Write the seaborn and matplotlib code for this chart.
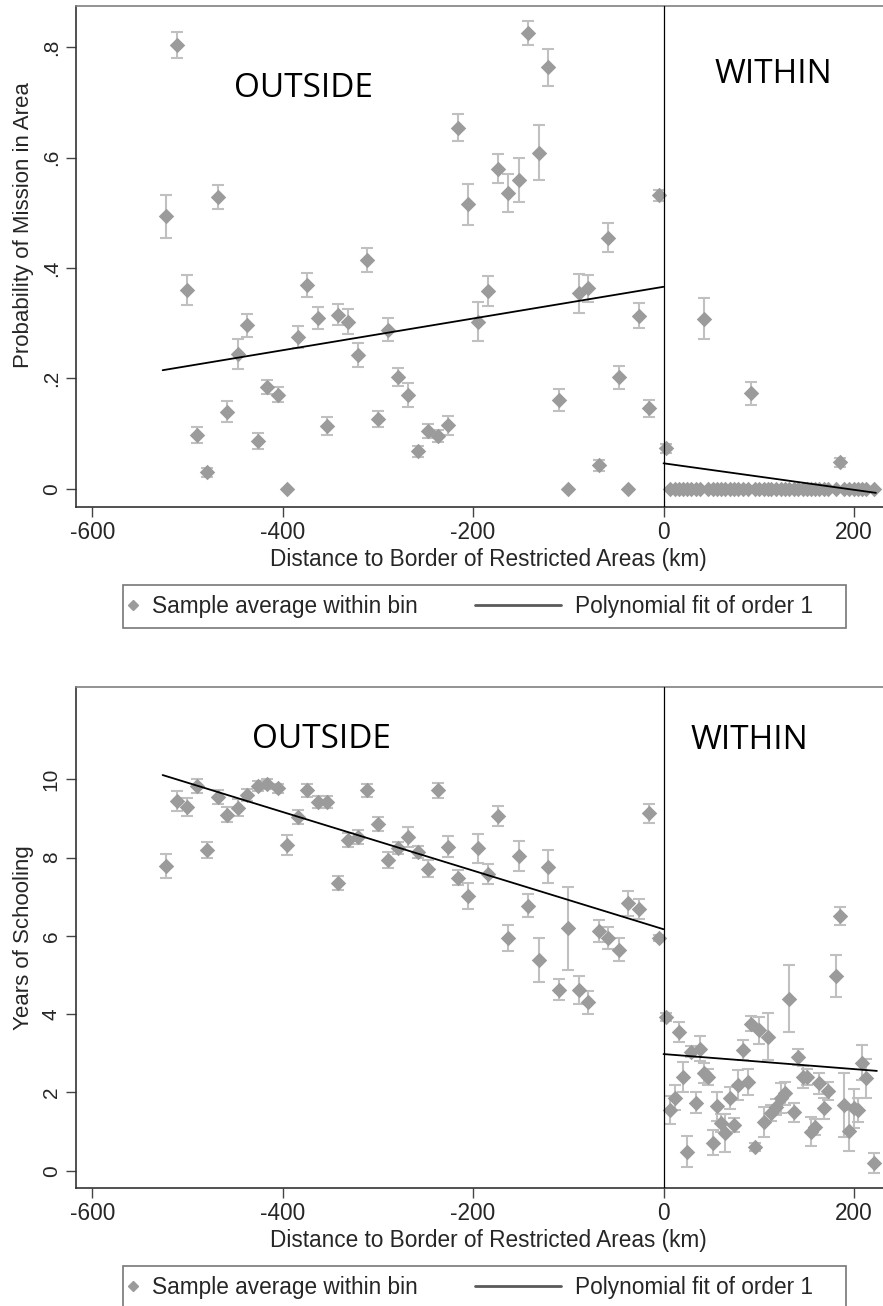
"""
Binned RD plot: mission presence and schooling vs. distance to the
border of the restricted areas (outside < 0 < within).
"""

import matplotlib
matplotlib.use("Agg")
import matplotlib.pyplot as plt
from matplotlib.lines import Line2D
from matplotlib.patches import Rectangle
import seaborn as sns

# bin centres (km to border), same for both panels
out_km = [-522, -511, -500, -490, -479, -468, -458, -447, -437, -426,
          -416, -405, -395, -384, -374, -363, -353, -342, -331, -321,
          -311, -300, -289, -279, -268, -258, -247, -237, -226, -216,
          -205, -195, -184, -174, -163, -152, -142, -131, -121, -110,
          -100, -89, -79, -68, -58, -47, -37, -26, -15, -5]
in_km = [2.8, 6.3, 11.5, 15.7, 20.3, 24.5, 29.0, 33.6, 38.5, 43.0,
         47.2, 51.7, 55.9, 60.5, 65.0, 69.3, 73.8, 78.0, 83.2, 88.5,
         92.0, 96.5, 100.7, 105.2, 109.4, 113.0, 118.4, 122.9, 127.8, 132.2,
         136.7, 141.7, 146.2, 150.8, 155.0, 159.5, 163.7, 168.2, 172.4, 181.2,
         185.7, 189.9, 195.1, 199.6, 203.8, 208.4, 212.6, 221.3]

# panel 1: probability of mission in area
mission_out = [0.494, 0.804, 0.360, 0.098, 0.030, 0.528, 0.140, 0.244, 0.296, 0.087,
               0.185, 0.171, 0.000, 0.275, 0.369, 0.309, 0.114, 0.315, 0.303, 0.243,
               0.414, 0.127, 0.288, 0.203, 0.170, 0.068, 0.105, 0.096, 0.115, 0.654,
               0.515, 0.303, 0.359, 0.580, 0.536, 0.559, 0.826, 0.609, 0.763, 0.161,
               0.000, 0.354, 0.363, 0.043, 0.455, 0.202, 0.000, 0.314, 0.146, 0.532]
mission_out_se = [0.039, 0.024, 0.027, 0.015, 0.008, 0.022, 0.019, 0.027, 0.021, 0.015,
                  0.013, 0.013, 0.000, 0.020, 0.022, 0.020, 0.016, 0.019, 0.023, 0.022,
                  0.022, 0.015, 0.021, 0.016, 0.022, 0.010, 0.013, 0.011, 0.018, 0.024,
                  0.037, 0.036, 0.027, 0.027, 0.034, 0.040, 0.022, 0.050, 0.033, 0.020,
                  0.000, 0.035, 0.025, 0.010, 0.026, 0.021, 0.000, 0.022, 0.015, 0.010]
mission_in = [0.074, 0, 0, 0, 0, 0, 0, 0, 0, 0.308,
              0, 0, 0, 0, 0, 0, 0, 0, 0, 0,
              0.173, 0, 0, 0, 0, 0, 0, 0, 0, 0,
              0, 0, 0, 0, 0, 0, 0, 0, 0, 0,
              0.048, 0, 0, 0, 0, 0, 0, 0]
mission_in_se = [0.008, 0, 0, 0, 0, 0, 0, 0, 0, 0.037,
                 0, 0, 0, 0, 0, 0, 0, 0, 0, 0,
                 0.021, 0, 0, 0, 0, 0, 0, 0, 0, 0,
                 0, 0, 0, 0, 0, 0, 0, 0, 0, 0,
                 0.008, 0, 0, 0, 0, 0, 0, 0]
mission_fit_out_km = [-526, 0]
mission_fit_out = [0.215, 0.366]
mission_fit_in_km = [0, 223]
mission_fit_in = [0.0465, -0.007]

# panel 2: years of schooling
school_out = [7.79, 9.45, 9.30, 9.83, 8.19, 9.55, 9.10, 9.28, 9.60, 9.83,
              9.88, 9.77, 8.32, 9.04, 9.72, 9.43, 9.43, 7.36, 8.45, 8.53,
              9.72, 8.86, 7.94, 8.24, 8.52, 8.15, 7.72, 9.72, 8.28, 7.49,
              7.02, 8.24, 7.58, 9.07, 5.95, 8.04, 6.77, 5.38, 7.77, 4.62,
              6.19, 4.62, 4.30, 6.13, 5.94, 5.65, 6.83, 6.68, 9.13, 5.95]
school_out_se = [0.30, 0.25, 0.23, 0.17, 0.20, 0.18, 0.20, 0.21, 0.16, 0.12,
                 0.12, 0.12, 0.26, 0.18, 0.17, 0.15, 0.15, 0.18, 0.17, 0.17,
                 0.16, 0.19, 0.20, 0.15, 0.26, 0.15, 0.21, 0.19, 0.26, 0.20,
                 0.33, 0.37, 0.26, 0.25, 0.34, 0.39, 0.29, 0.57, 0.42, 0.27,
                 1.07, 0.35, 0.29, 0.28, 0.28, 0.29, 0.31, 0.26, 0.24, 0.08]
school_in = [3.92, 1.55, 1.87, 3.55, 2.39, 0.49, 3.04, 1.74, 3.12, 2.49,
             2.39, 0.72, 1.65, 1.21, 0.96, 1.85, 1.17, 2.19, 3.08, 2.27,
             3.76, 0.61, 3.59, 1.25, 3.42, 1.47, 1.63, 1.85, 1.98, 4.40,
             1.49, 2.91, 2.39, 2.39, 1.00, 1.12, 2.23, 1.59, 2.04, 4.97,
             6.51, 1.68, 1.02, 1.59, 1.55, 2.76, 2.36, 0.19]
school_in_se = [0.10, 0.35, 0.32, 0.26, 0.38, 0.39, 0.14, 0.26, 0.32, 0.26,
                0.20, 0.33, 0.37, 0.23, 0.49, 0.28, 0.18, 0.39, 0.26, 0.34,
                0.19, 0.10, 0.34, 0.38, 0.60, 0.20, 0.20, 0.38, 0.29, 0.86,
                0.24, 0.21, 0.28, 0.20, 0.38, 0.21, 0.26, 0.28, 0.23, 0.54,
                0.24, 0.81, 0.52, 0.50, 0.30, 0.45, 0.49, 0.26]
school_fit_out_km = [-526, 0]
school_fit_out = [10.11, 6.17]
school_fit_in_km = [0, 224]
school_fit_in = [2.98, 2.55]

x_ticks = [-600, -400, -200, 0, 200]
mission_ticks = [0, 0.2, 0.4, 0.6, 0.8]
mission_ticklabels = ["0", ".2", ".4", ".6", ".8"]
school_ticks = [0, 2, 4, 6, 8, 10]
school_ticklabels = ["0", "2", "4", "6", "8", "10"]

XLABEL = "Distance to Border of Restricted Areas (km)"
DOT = "#9b9b9b"
BAR = "#c0c0c0"
FS = 16.3       # x axis + legend text
FS_Y = 15.0     # rotated y tick labels
FS_YLAB = 16.0  # y axis title

sns.set_style("ticks")
plt.rcParams["font.family"] = ["Liberation Sans", "DejaVu Sans"]


def draw_panel(ax, y_out, se_out, y_in, se_in, fit_out, fit_in,
               ylim, yticks, yticklabels, ylabel, ylabel_y, tags):
    """Scatter of bin means with CI bars, linear fits on each side."""
    for xs, ys, se in [(out_km, y_out, se_out), (in_km, y_in, se_in)]:
        ax.errorbar(xs, ys, yerr=se, fmt="none", ecolor=BAR, elinewidth=1.5,
                    capsize=4.3, capthick=1.5, zorder=1)
        sns.scatterplot(x=xs, y=ys, marker="D", s=62, color=DOT,
                        linewidth=0, ax=ax, zorder=2)
    for fx, fy in [fit_out, fit_in]:
        sns.lineplot(x=fx, y=fy, color="black", lw=1.3, ax=ax, zorder=3)
    ax.axvline(0, color="black", lw=0.9, zorder=3)

    ax.set_xlim(-617, 248.3)
    ax.set_ylim(*ylim)
    ax.set_xticks(x_ticks)
    ax.set_xticklabels([str(t) for t in x_ticks], fontsize=FS)
    ax.set_yticks(yticks)
    ax.set_yticklabels(yticklabels, fontsize=FS_Y, rotation=90, va="center")
    ax.tick_params(direction="out", length=7, width=1, color="#444444")
    ax.tick_params(axis="x", pad=3)
    ax.tick_params(axis="y", pad=4)
    ax.set_xlabel(XLABEL, fontsize=FS, labelpad=3)
    ax.set_ylabel(ylabel, fontsize=FS_YLAB)
    ax.yaxis.set_label_coords(-0.051, ylabel_y)

    for side in ["left", "bottom"]:
        ax.spines[side].set_color("#333333")
        ax.spines[side].set_linewidth(1.2)
    ax.spines["top"].set_color("#808080")
    ax.spines["top"].set_linewidth(1.2)
    ax.spines["right"].set_visible(False)

    for label, x, y in tags:
        ax.text(x, y, label, fontsize=24, family="Open Sans",
                ha="center", va="baseline", color="black")


def add_legend(fig, top_px):
    """Stata-style boxed legend, two entries in one row."""
    H = 1306.0
    W = 883.0
    yc = 1 - (top_px + 21.5) / H
    dot = Line2D([], [], marker="D", color=DOT, ls="none", ms=5)
    line = Line2D([], [], color="#5a5a5a", lw=2)
    fig.legend([dot], ["Sample average within bin"], loc="center left",
               bbox_to_anchor=(124 / W, yc), frameon=False, fontsize=FS,
               handlelength=0.8, handletextpad=0.45, borderpad=0,
               borderaxespad=0)
    fig.legend([line], ["Polynomial fit of order 1"], loc="center left",
               bbox_to_anchor=(475 / W, yc), frameon=False, fontsize=FS,
               handlelength=3.8, handletextpad=0.6, borderpad=0,
               borderaxespad=0)
    box = Rectangle((123 / W, 1 - (top_px + 43) / H), 723 / W, 43 / H,
                    transform=fig.transFigure, fill=False,
                    edgecolor="#777777", lw=1.2)
    fig.add_artist(box)


fig = plt.figure(figsize=(8.83, 13.06), dpi=100)
ax_top = fig.add_axes([76 / 883, 1 - 507 / 1306, 824 / 883, 501.3 / 1306])
ax_bot = fig.add_axes([76 / 883, 1 - 1188.3 / 1306, 824 / 883, 501.3 / 1306])

draw_panel(ax_top, mission_out, mission_out_se, mission_in, mission_in_se,
           (mission_fit_out_km, mission_fit_out), (mission_fit_in_km, mission_fit_in),
           (-0.0326, 0.8748), mission_ticks, mission_ticklabels,
           "Probability of Mission in Area", 0.5625,
           [("OUTSIDE", -378, 0.7095), ("WITHIN", 115, 0.7348)])
draw_panel(ax_bot, school_out, school_out_se, school_in, school_in_se,
           (school_fit_out_km, school_fit_out), (school_fit_in_km, school_fit_in),
           (-0.45, 12.36), school_ticks, school_ticklabels,
           "Years of Schooling", 0.5,
           [("OUTSIDE", -359, 10.80), ("WITHIN", 90, 10.77)])

add_legend(fig, 585)
add_legend(fig, 1266)

fig.savefig("out.png", dpi=100)
